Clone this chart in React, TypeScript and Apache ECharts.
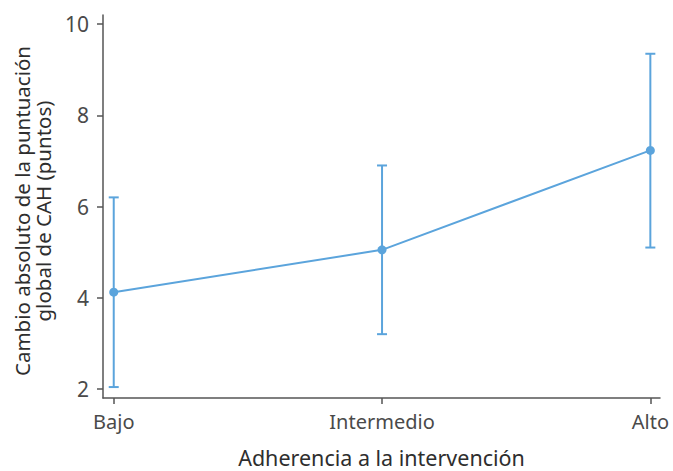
import React, { useEffect, useRef } from "react";
import * as echarts from "echarts";

const categories = ["Bajo", "Intermedio", "Alto"];
const means = [4.12, 5.05, 7.23];
const lowerCI = [2.04, 3.2, 5.1];
const upperCI = [6.2, 6.9, 9.35];
const yTicks = [2, 4, 6, 8, 10];

const COLOR = "#5ba4dc";
const AXIS = "#555555";
const TEXT = "#4a4a4a";
const TITLE = "#2e2e2e";
const FONT = "Noto Sans";

export default function App() {
  const ref = useRef<HTMLDivElement>(null);
  useEffect(() => {
    if (!ref.current) return;
    const chart = echarts.init(ref.current, undefined, { renderer: "svg" });
    const xIdx = categories.map((_, i) => i);
    chart.setOption({
      animation: false,
      grid: { left: 103, right: 13, top: 15, bottom: 73, containLabel: false, outerBoundsMode: "none" },
      xAxis: {
        type: "value",
        min: -0.04,
        max: 2.036,
        name: "Adherencia a la intervención",
        nameLocation: "middle",
        nameGap: 48,
        nameTextStyle: { fontFamily: FONT, fontSize: 21.5, color: TITLE },
        axisLine: { show: true, onZero: false, lineStyle: { color: AXIS, width: 1.5 } },
        axisTick: { show: true, customValues: xIdx, length: 6, lineStyle: { color: AXIS, width: 1.5 } },
        axisLabel: {
          customValues: xIdx,
          formatter: (v: number) => categories[Math.round(v)] ?? "",
          fontFamily: FONT,
          fontSize: 20,
          color: TEXT,
          margin: 13,
        },
        splitLine: { show: false },
      },
      yAxis: {
        type: "value",
        min: 1.8,
        max: 10.2,
        axisLine: { show: true, onZero: false, lineStyle: { color: AXIS, width: 1.5 } },
        axisTick: { show: true, customValues: yTicks, length: 6, lineStyle: { color: AXIS, width: 1.5 } },
        axisLabel: {
          customValues: yTicks,
          fontFamily: FONT,
          fontSize: 21,
          color: TEXT,
          margin: 14,
        },
        splitLine: { show: false },
      },
      graphic: [
        {
          type: "text",
          x: 32,
          y: 211,
          rotation: Math.PI / 2,
          style: {
            text: "Cambio absoluto de la puntuación\nglobal de CAH (puntos)",
            fontFamily: FONT,
            fontSize: 20.5,
            fill: TITLE,
            align: "center",
            verticalAlign: "middle",
            lineHeight: 21,
          },
        },
      ],
      series: [
        {
          type: "custom",
          data: xIdx.map((i) => [i, lowerCI[i], upperCI[i]]),
          renderItem: (params: any, api: any) => {
            const x = api.value(0);
            const lo = api.coord([x, api.value(1)]);
            const hi = api.coord([x, api.value(2)]);
            const cap = 5;
            const style = { stroke: COLOR, lineWidth: 2 };
            return {
              type: "group",
              children: [
                { type: "line", shape: { x1: lo[0], y1: lo[1], x2: hi[0], y2: hi[1] }, style },
                { type: "line", shape: { x1: lo[0] - cap, y1: lo[1], x2: lo[0] + cap, y2: lo[1] }, style },
                { type: "line", shape: { x1: hi[0] - cap, y1: hi[1], x2: hi[0] + cap, y2: hi[1] }, style },
              ],
            };
          },
          z: 2,
        },
        {
          type: "line",
          data: xIdx.map((i) => [i, means[i]]),
          symbol: "circle",
          symbolSize: 9,
          lineStyle: { color: COLOR, width: 2 },
          itemStyle: { color: COLOR },
          z: 3,
        },
      ],
    });
    return () => chart.dispose();
  }, []);
  return <div ref={ref} style={{ width: 673, height: 471, position: "absolute", left: 0, top: 0 }} />;
}
